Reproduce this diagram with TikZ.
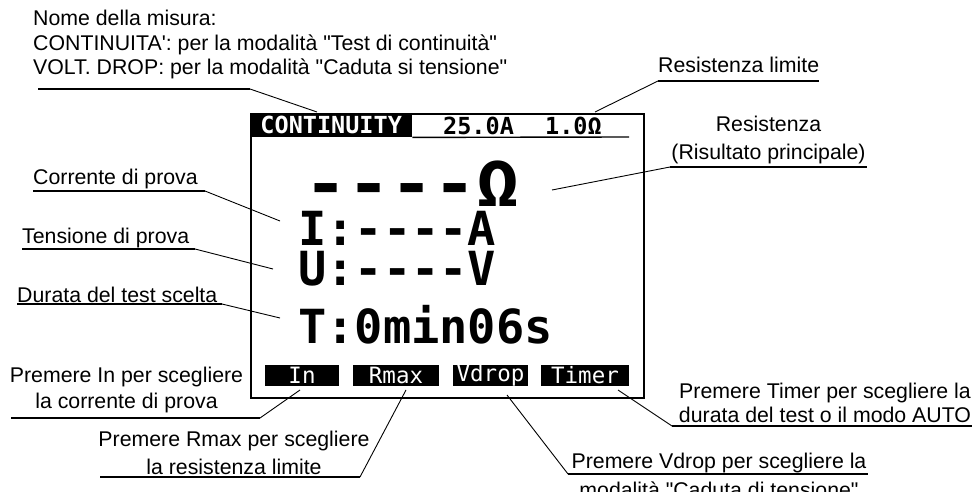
\documentclass[tikz,border=0pt]{standalone}
\usepackage{fontspec}
\setmainfont{Liberation Sans}
\font\lblraw="Liberation Sans" at 21.3pt
\newfontfamily\lcdfont{DejaVu Sans Mono}
\newfontfamily\lcdwide{DejaVu Sans Mono}[FakeStretch=1.12]
\newcommand\lcdd{\mbox{-}}

\tikzset{
  lbl/.style={inner sep=0pt, font={\lblraw\baselineskip=24.5pt}},
  uline/.style={line width=1.4pt},
  lead/.style={line width=0.9pt},
  frame/.style={draw, line width=1.8pt, inner sep=0pt},
  hdr/.style={fill=black, text=white, inner sep=0pt, font=\lcdfont\bfseries\fontsize{23.5}{24}\selectfont},
  hval/.style={inner sep=0pt, font=\lcdfont\bfseries\fontsize{23.5}{24}\selectfont},
  row/.style={inner sep=0pt, text height=32pt, text depth=0pt, font=\lcdfont\bfseries\fontsize{47}{48}\selectfont},
  bigrow/.style={inner sep=0pt, text height=44pt, text depth=0pt, font=\lcdwide\bfseries\fontsize{64}{64}\selectfont},
  softkey/.style={fill=black, text=white, inner sep=0pt, minimum height=21pt, font=\lcdfont\fontsize{22.5}{22}\selectfont},
}

\begin{document}
\begin{tikzpicture}[x=1pt, y=-1pt]
\useasboundingbox (0,0) rectangle (975,492);

% display
\node[frame, anchor=north west, minimum width=393pt, minimum height=284pt] (lcd) at (250,113) {};
\node[hdr, anchor=north west, minimum width=162pt, minimum height=24pt] (mode) at (250,113) {CONTINUITY};
\node[hval, anchor=base west] (itest) at (443,135) {25.0A};
\node[hval, anchor=base west] (rlim) at (545,135) {1.0Ω};
\coordinate (hdrend) at (629,137);
\draw[uline] (mode.south east) -- (hdrend);

\node[bigrow, anchor=base west] (res) at (304,207) {\lcdd\lcdd\lcdd\lcdd Ω};
\node[row, anchor=base west] (rowI) at (298,245) {I:\lcdd\lcdd\lcdd\lcdd A};
\node[row, anchor=base west] (rowU) at (298,285) {U:\lcdd\lcdd\lcdd\lcdd V};
\node[row, anchor=base west] (rowT) at (298,343) {T:0min06s};

% softkeys
\node[softkey, minimum width=74pt] (kIn) at (302,375.5) {In};
\node[softkey, minimum width=86pt] (kRmax) at (396,375.5) {Rmax};
\node[softkey, minimum width=75pt] (kVdrop) at (490.5,375.5) {Vdrop};
\node[softkey, minimum width=88pt] (kTimer) at (585,375.5) {Timer};

% leader tips
\coordinate (tMode) at (317,112);
\coordinate (tLim) at (595,112);
\coordinate (tRes) at (552,190);
\coordinate (tI) at (280,221);
\coordinate (tU) at (273,269);
\coordinate (tT) at (280,318);
\coordinate (tIn) at (300,390);
\coordinate (tRmax) at (406,390);
\coordinate (tVdrop) at (507,395);
\coordinate (tTimer) at (618,390);

% labels (base = last line)
\node[lbl, anchor=base west, align=left] (nomeLbl) at (33,75) {Nome della misura:\\CONTINUITA': per la modalità "Test di continuità"\\VOLT. DROP: per la modalità "Caduta si tensione"};
\node[lbl, anchor=base west] (limLbl) at (658,73) {Resistenza limite};
\node[lbl, anchor=base, align=center, font={\lblraw\baselineskip=28pt}] (resLbl) at (768.5,160) {Resistenza\\(Risultato principale)};
\node[lbl, anchor=base west] (corrLbl) at (33,185) {Corrente di prova};
\node[lbl, anchor=base west] (tensLbl) at (22,243) {Tensione di prova};
\node[lbl, anchor=base west] (durLbl) at (17,302) {Durata del test scelta};
\node[lbl, anchor=base, align=center, font={\lblraw\baselineskip=26pt}] (inLbl) at (126.5,408) {Premere In per scegliere\\la corrente di prova};
\node[lbl, anchor=base, align=center, font={\lblraw\baselineskip=28pt}] (rmaxLbl) at (234,474) {Premere Rmax per scegliere\\la resistenza limite};
\node[lbl, anchor=base, align=center, font={\lblraw\baselineskip=29pt}] (vdropLbl) at (719,497) {Premere Vdrop per scegliere la\\modalità "Caduta di tensione"};
\node[lbl, anchor=base, align=center, font={\lblraw\baselineskip=24pt}] (timerLbl) at (825,422) {Premere Timer per scegliere la\\durata del test o il modo AUTO};

% underlines and leaders
\coordinate (uNome) at (250,89);
\draw[uline] (38,89) -- (uNome);
\draw[lead] (uNome) -- (tMode);

\coordinate (uLim) at (658,81);
\draw[uline] (uLim) -- (limLbl.east |- uLim);
\draw[lead] (uLim) -- (tLim);

\coordinate (uRes) at (670,167);
\draw[uline] (uRes) -- (867,167);
\draw[lead] (uRes) -- (tRes);

\coordinate (uCorr) at (205,191);
\draw[uline] (corrLbl.west |- uCorr) -- (uCorr);
\draw[lead] (uCorr) -- (tI);

\coordinate (uTens) at (195,249);
\draw[uline] (tensLbl.west |- uTens) -- (uTens);
\draw[lead] (uTens) -- (tU);

\coordinate (uDur) at (222,304);
\draw[uline] (durLbl.west |- uDur) -- (uDur);
\draw[lead] (uDur) -- (tT);

\coordinate (uIn) at (260,418);
\draw[uline] (11,418) -- (uIn);
\draw[lead] (uIn) -- (tIn);

\coordinate (uRmax) at (360,477);
\draw[uline] (100,477) -- (uRmax);
\draw[lead] (uRmax) -- (tRmax);

\coordinate (uVdrop) at (568,474);
\draw[uline] (uVdrop) -- (868,474);
\draw[lead] (uVdrop) -- (tVdrop);

\coordinate (uTimer) at (672,426);
\draw[uline] (uTimer) -- (972,426);
\draw[lead] (uTimer) -- (tTimer);

\end{tikzpicture}
\end{document}
